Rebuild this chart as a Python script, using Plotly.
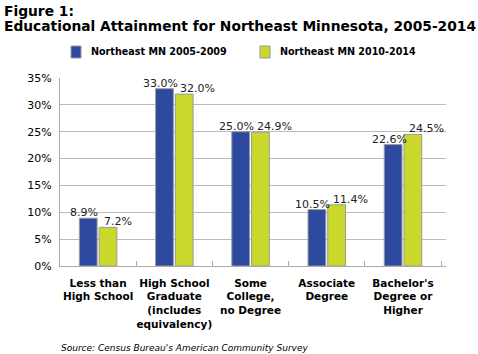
import plotly.graph_objects as go

categories = ["Less than<br>High School", "High School<br>Graduate<br>(includes<br>equivalency)",
              "Some<br>College,<br>no Degree", "Associate<br>Degree", "Bachelor's<br>Degree or<br>Higher"]
series_names = ["Northeast MN 2005-2009", "Northeast MN 2010-2014"]
values_2005_2009 = [8.9, 33.0, 25.0, 10.5, 22.6]
values_2010_2014 = [7.2, 32.0, 24.9, 11.4, 24.5]
colors = ["#2E49A0", "#C9D82A"]

FONT = "DejaVu Sans, Verdana, sans-serif"
W, H = 478, 354
L, R, T, B = 60, 32, 78, 88
PW, PH = W - L - R, H - T - B


def px(x):
    return (x - L) / PW


def py(y):
    return (H - B - y) / PH


fig = go.Figure()
for name, vals, col in zip(series_names, [values_2005_2009, values_2010_2014], colors):
    fig.add_trace(go.Bar(
        x=categories, y=vals, name=name, showlegend=False,
        marker=dict(color=col, line=dict(color="#9A9A9A", width=1)),
    ))

annotations = []
# data labels
for cat, v in zip(categories, values_2005_2009):
    annotations.append(dict(x=cat, y=v, xref="x", yref="y", text=f"{v:.1f}%", showarrow=False,
                            xanchor="center", yanchor="bottom", xshift=-14, yshift=-3,
                            font=dict(family=FONT, size=11, color="#222")))
for cat, v in zip(categories, values_2010_2014):
    annotations.append(dict(x=cat, y=v, xref="x", yref="y", text=f"{v:.1f}%", showarrow=False,
                            xanchor="left", yanchor="bottom", xshift=4, yshift=-3,
                            font=dict(family=FONT, size=11, color="#222")))
# title
annotations.append(dict(text="<b>Figure 1:</b>", xref="paper", yref="paper",
                        x=px(2), y=py(11), xanchor="left", yanchor="middle", showarrow=False,
                        font=dict(family=FONT, size=13.8, color="#000")))
annotations.append(dict(text="<b>Educational Attainment for Northeast Minnesota, 2005-2014</b>",
                        xref="paper", yref="paper", x=px(2), y=py(26), xanchor="left",
                        yanchor="middle", showarrow=False,
                        font=dict(family=FONT, size=13.8, color="#000")))
# legend
shapes = []
for (x0, name, col) in [(71, series_names[0], colors[0]), (260, series_names[1], colors[1])]:
    shapes.append(dict(type="rect", xref="paper", yref="paper",
                       x0=px(x0), x1=px(x0 + 10), y0=py(58), y1=py(46),
                       fillcolor=col, line=dict(color="#9A9A9A", width=1)))
    annotations.append(dict(text="<b>" + name + "</b>", xref="paper", yref="paper",
                            x=px(x0 + 18), y=py(52), xanchor="left", yanchor="middle",
                            showarrow=False, font=dict(family=FONT, size=9.6, color="#000")))
# source
annotations.append(dict(text="<i>Source: Census Bureau's American Community Survey</i>",
                        xref="paper", yref="paper", x=px(59), y=py(348), xanchor="left",
                        yanchor="middle", showarrow=False,
                        font=dict(family=FONT, size=9, color="#000")))

fig.update_layout(
    width=W, height=H,
    margin=dict(l=L, r=R, t=T, b=B, autoexpand=False),
    paper_bgcolor="white", plot_bgcolor="white",
    font=dict(family=FONT, color="#000"),
    barmode="group", bargap=0.482, bargroupgap=0.1,
    showlegend=False,
    annotations=annotations, shapes=shapes,
)
fig.update_xaxes(
    showline=True, linecolor="#AAAAAA", linewidth=1, tickangle=0,
    ticks="inside", tickson="boundaries", ticklen=5, tickcolor="#AAAAAA",
    ticklabelstandoff=7,
    tickfont=dict(family=FONT, size=10.5, color="#000", weight="bold"),
)
fig.update_yaxes(
    range=[0, 35], dtick=5, ticksuffix="%",
    showline=True, linecolor="#AAAAAA", linewidth=1,
    gridcolor="#BBBBBB", gridwidth=1, zeroline=False,
    ticklabelstandoff=5,
    tickfont=dict(family=FONT, size=11, color="#000"),
)

fig.write_html("out.html")
